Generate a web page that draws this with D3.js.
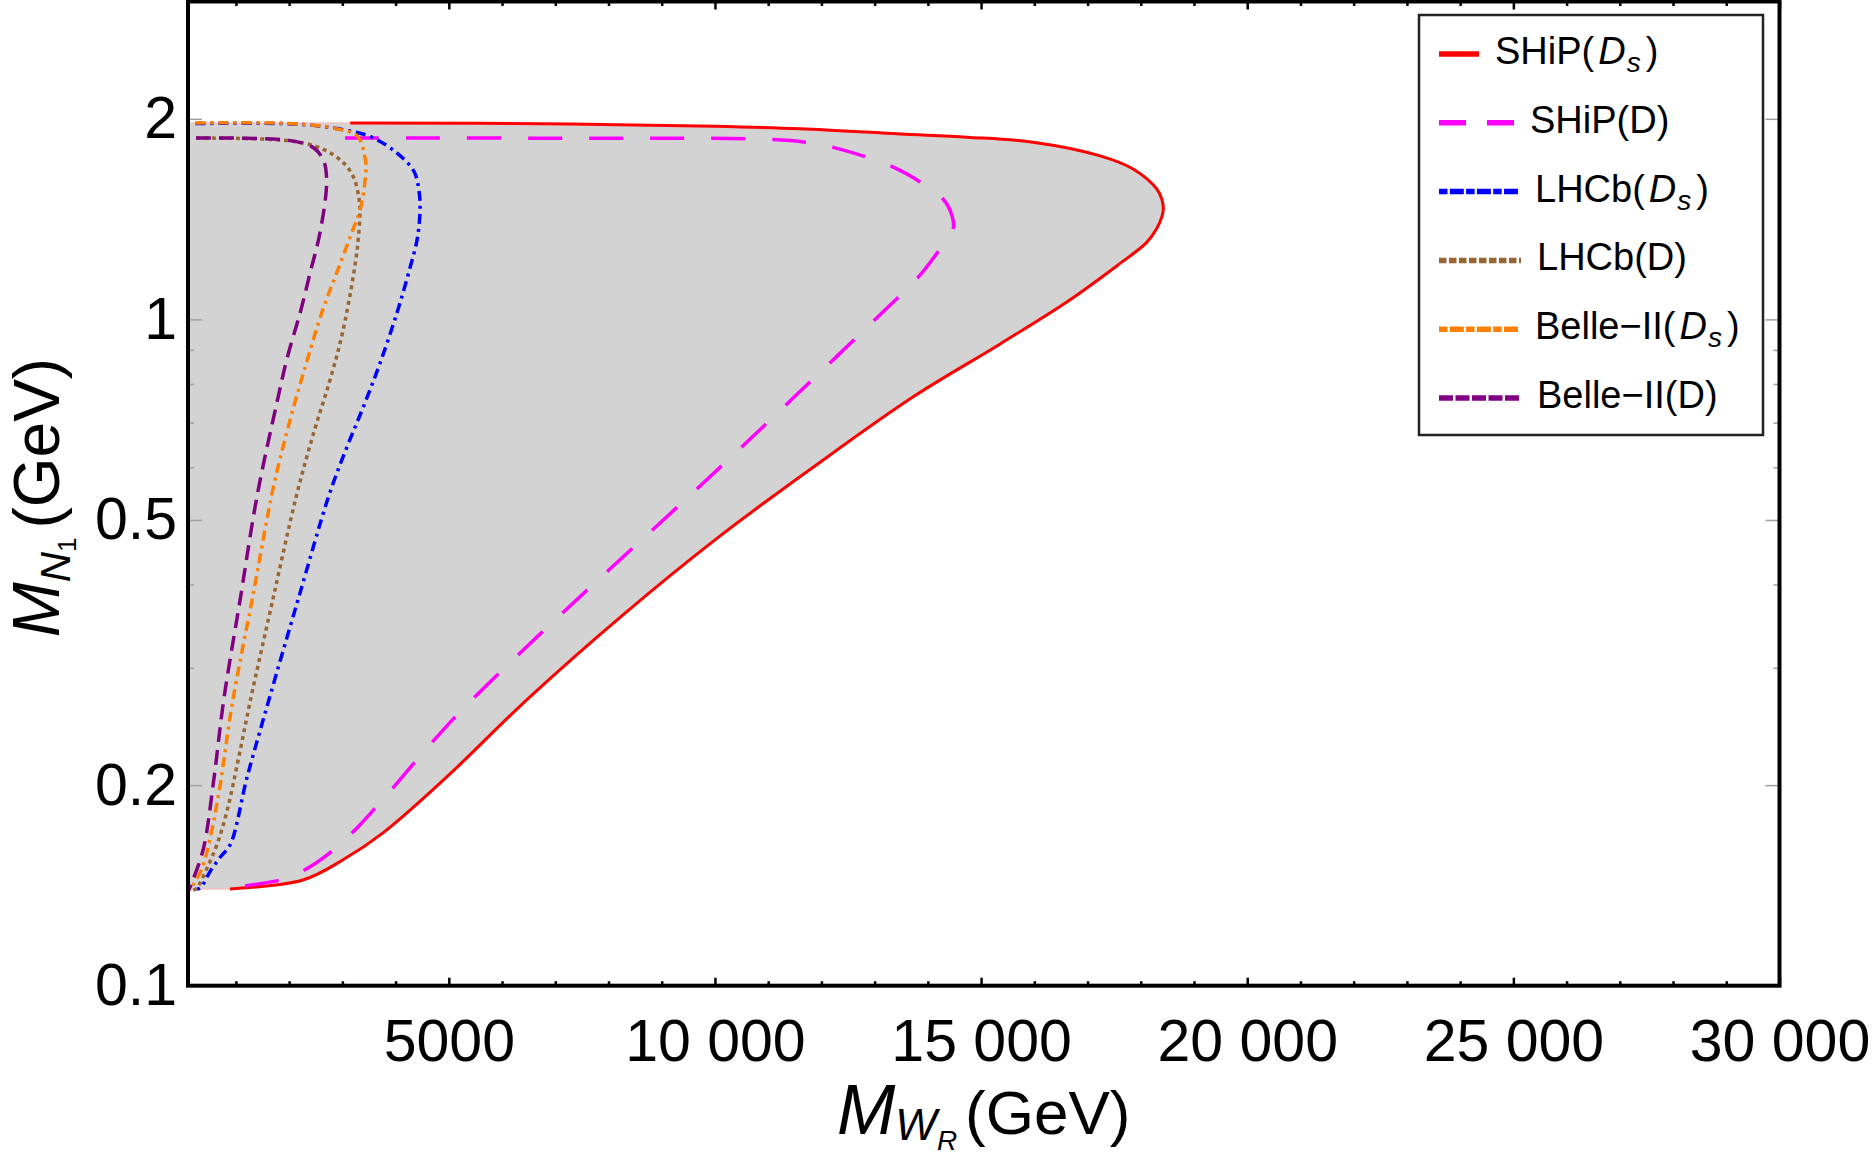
<!DOCTYPE html>
<html>
<head>
<meta charset="utf-8">
<script src="https://cdn.jsdelivr.net/npm/d3@7"></script>
<style>
  body { margin: 0; background: #fff; }
  svg { display: block; }
  text { font-family: "Liberation Sans", Arial, sans-serif; fill: #000; }
</style>
</head>
<body>
<div id="chart"></div>
<script>
// axis setup
const xDomain = [100, 30000];
const yDomain = [0.1, 3];
const xMajorTicks = [5000, 10000, 15000, 20000, 25000, 30000];
const xTickLabels = ["5000", "10 000", "15 000", "20 000", "25 000", "30 000"];
const xMinorTicks = d3.range(1000, 30000, 1000).filter(v => v % 5000 !== 0);
const yMajorTicks = [0.1, 0.2, 0.5, 1, 2];
const yTickLabels = ["0.1", "0.2", "0.5", "1", "2"];
const yMinorTicks = [0.3, 0.4, 0.6, 0.7, 0.8, 0.9];

// curves, [M_WR (GeV), M_N1 (GeV)]
const shipDs = [[3148,1.972],[7281,1.965],[9983,1.949],[11599,1.932],[13478,1.898],[14737,1.877],
  [15977,1.845],[17236,1.760],[17856,1.682],[18300,1.570],[18394,1.516],[18424,1.465],[18394,1.424],
  [18300,1.369],[18112,1.305],[17554,1.204],[16610,1.062],[15351,0.918],[13711,0.764],[11845,0.600],
  [10049,0.470],[8251,0.359],[6469,0.2688],[4966,0.2059],[3764,0.1696],
  [3012,0.1545],[2260,0.1441],[889,0.1397]];
const shipD = [[3050,1.871],[8000,1.870],[10947,1.864],[11700,1.845],[12296,1.806],[13307,1.698],[13855,1.608],
  [14286,1.516],[14455,1.430],[14476,1.369],[14228,1.276],[13816,1.156],[13195,1.033],[11845,0.814],
  [10498,0.643],[9262,0.520],[8027,0.422],[6678,0.335],[5211,0.2576],[4515,0.2237],[4083,0.2038],
  [3707,0.1882],[3330,0.1743],[2899,0.1616],[2447,0.1518],[1960,0.1451],[1321,0.1417],[737,0.1397]];
const lhcbDs = [[240,1.968],[1837,1.968],[2402,1.957],[3029,1.925],[3532,1.880],[4034,1.775],
  [4347,1.667],[4441,1.556],[4460,1.470],[4410,1.325],[4253,1.181],[4034,1.028],[3720,0.865],
  [3406,0.743],[3075,0.640],[2747,0.544],[2190,0.385],[1617,0.268],[1210,0.2055],[896,0.163],
  [708,0.156],[520,0.1486],[331,0.1402],[263,0.1397]];
const lhcbD = [[250,1.871],[2088,1.851],[2653,1.798],[3029,1.716],[3217,1.630],[3311,1.521],
  [3330,1.452],[3281,1.279],[3155,1.101],[2978,0.936],[2758,0.806],[2467,0.678],[2138,0.544],
  [1701,0.382],[1272,0.268],[1052,0.220],[834,0.183],[646,0.163],[457,0.150],[269,0.1402],[200,0.139]];
const belleDs = [[240,1.972],[2000,1.968],[2905,1.932],[3281,1.884],[3437,1.727],[3437,1.650],
  [3343,1.470],[3187,1.356],[2905,1.181],[2622,1.028],[2276,0.835],[2026,0.710],[1711,0.563],
  [1320,0.385],[928,0.264],[708,0.201],[520,0.167],[363,0.150],[205,0.142],[143,0.139]];
const belleD = [[250,1.871],[2024,1.855],[2465,1.808],[2653,1.727],[2703,1.632],[2684,1.522],
  [2559,1.325],[2402,1.181],[2214,1.028],[1963,0.875],[1759,0.743],[1399,0.544],[1085,0.382],
  [770,0.268],[582,0.203],[393,0.161],[205,0.145],[111,0.139]];

const series = [
  {name: "SHiP", meson: "Ds", data: shipDs, color: "#ff0000", dash: null, legDash: null, legLen: 40, width: 3},
  {name: "SHiP", meson: "D", data: shipD, color: "#ff00ff", dash: "34,27", legDash: "27,21", legLen: 75, width: 3.5},
  {name: "LHCb", meson: "Ds", data: lhcbDs, color: "#0000ff", dash: "10,5,3,5", legDash: "8.5,2.3,14,2.3", legLen: 80, width: 3.5},
  {name: "LHCb", meson: "D", data: lhcbD, color: "#996633", dash: "4,4", legDash: "7.5,2.5", legLen: 82, width: 3.5},
  {name: "Belle\u2212II", meson: "Ds", data: belleDs, color: "#ff8000", dash: "10,5,3,5", legDash: "8.5,2.3,14,2.3", legLen: 80, width: 3.5},
  {name: "Belle\u2212II", meson: "D", data: belleD, color: "#800080", dash: "15,8", legDash: "14,2.5", legLen: 82, width: 3.5}
];

const W = 1875, H = 1155;
const svg = d3.select("#chart").append("svg").attr("width", W).attr("height", H);

const x = d3.scaleLinear().domain(xDomain).range([188, 1779.5]);
const y = d3.scaleLog().domain(yDomain).range([985.7, 1.5]);

const line = d3.line()
  .x(d => x(d[0]))
  .y(d => y(d[1]))
  .curve(d3.curveCatmullRom.alpha(0.5));

// shaded SHiP(Ds) region: red curve closed against the left frame
const top0 = shipDs[0][1], bot0 = shipDs[shipDs.length - 1][1];
svg.append("path")
  .attr("d", line(shipDs) + `L${x(xDomain[0])},${y(bot0)}L${x(xDomain[0])},${y(top0)}Z`)
  .attr("fill", "#d3d3d3");
svg.append("path")
  .attr("d", `M${x(xDomain[0])},${y(top0)}L${x(shipDs[0][0])},${y(top0)}M${x(xDomain[0])},${y(bot0)}L${x(shipDs[shipDs.length - 1][0])},${y(bot0)}`)
  .attr("stroke", "#f4c2c2").attr("stroke-width", 1.5).attr("fill", "none");

// ticks
function styleAxis(g, color, width) {
  g.select(".domain").remove();
  g.selectAll(".tick line").attr("stroke", color).attr("stroke-width", width);
  g.selectAll(".tick text").attr("font-size", 59).attr("fill", "#000")
    .attr("font-family", '"Liberation Sans", Arial, sans-serif');
}
const yb = y.range()[0], yt = y.range()[1], xl = x.range()[0], xr = x.range()[1];

svg.append("g").attr("transform", `translate(0,${yb})`)
  .call(d3.axisBottom(x).tickValues(xMajorTicks).tickSize(-8).tickPadding(33)
    .tickFormat(d => xTickLabels[xMajorTicks.indexOf(d)]))
  .call(g => styleAxis(g, "#000", 2.5));
svg.append("g").attr("transform", `translate(0,${yb})`)
  .call(d3.axisBottom(x).tickValues(xMinorTicks).tickSize(-4.5).tickFormat(""))
  .call(g => styleAxis(g, "#000", 2.5));
svg.append("g").attr("transform", `translate(0,${yt})`)
  .call(d3.axisTop(x).tickValues(xMajorTicks).tickSize(-8).tickFormat(""))
  .call(g => styleAxis(g, "#000", 2.5));
svg.append("g").attr("transform", `translate(0,${yt})`)
  .call(d3.axisTop(x).tickValues(xMinorTicks).tickSize(-4.5).tickFormat(""))
  .call(g => styleAxis(g, "#000", 2.5));

svg.append("g").attr("transform", `translate(${xl},0)`)
  .call(d3.axisLeft(y).tickValues(yMajorTicks).tickSize(-14).tickPadding(11)
    .tickFormat(d => yTickLabels[yMajorTicks.indexOf(d)]))
  .call(g => styleAxis(g, "#a0a0a0", 1.5));
svg.append("g").attr("transform", `translate(${xl},0)`)
  .call(d3.axisLeft(y).tickValues(yMinorTicks).tickSize(-6).tickFormat(""))
  .call(g => styleAxis(g, "#a0a0a0", 1.5));
svg.append("g").attr("transform", `translate(${xr},0)`)
  .call(d3.axisRight(y).tickValues(yMajorTicks).tickSize(-14).tickFormat(""))
  .call(g => styleAxis(g, "#a0a0a0", 1.5));
svg.append("g").attr("transform", `translate(${xr},0)`)
  .call(d3.axisRight(y).tickValues(yMinorTicks).tickSize(-6).tickFormat(""))
  .call(g => styleAxis(g, "#a0a0a0", 1.5));

// curves
series.forEach(s => {
  svg.append("path")
    .datum(s.data)
    .attr("d", line)
    .attr("fill", "none")
    .attr("stroke", s.color)
    .attr("stroke-width", s.width)
    .attr("stroke-dasharray", s.dash)
    .attr("stroke-linejoin", "round");
});

// frame
svg.append("rect")
  .attr("x", xl).attr("y", yt)
  .attr("width", xr - xl).attr("height", yb - yt)
  .attr("fill", "none").attr("stroke", "#000").attr("stroke-width", 4);

// legend
const leg = svg.append("g");
leg.append("rect").attr("x", 1419).attr("y", 15).attr("width", 344).attr("height", 420)
  .attr("fill", "#fff").attr("stroke", "#222").attr("stroke-width", 2.5);
series.forEach((s, i) => {
  const ly = 54 + i * 68.8;
  leg.append("line")
    .attr("x1", 1439).attr("x2", 1439 + s.legLen)
    .attr("y1", ly).attr("y2", ly)
    .attr("stroke", s.color).attr("stroke-width", 5.5)
    .attr("stroke-dasharray", s.legDash);
  const t = leg.append("text")
    .attr("x", 1439 + s.legLen + 16).attr("y", ly + 10)
    .attr("font-size", 38);
  t.append("tspan").text(s.name + "(");
  if (s.meson === "Ds") {
    t.append("tspan").attr("dx", 4).attr("font-style", "italic").text("D");
    t.append("tspan").attr("dx", 1).attr("dy", 8).attr("font-size", 28).attr("font-style", "italic").text("s");
    t.append("tspan").attr("dx", 5).attr("dy", -8).text(")");
  } else {
    t.append("tspan").text("D)");
  }
});

// axis titles
const xt = svg.append("text").attr("x", (xl + xr) / 2).attr("y", 1134).attr("text-anchor", "middle");
xt.append("tspan").attr("font-style", "italic").attr("font-size", 70).text("M");
xt.append("tspan").attr("font-style", "italic").attr("font-size", 44).attr("dy", 6).text("W");
xt.append("tspan").attr("font-style", "italic").attr("font-size", 28).attr("dy", 10).text("R");
xt.append("tspan").attr("font-size", 62).attr("dy", -16).attr("dx", 8).text("(GeV)");

const ytg = svg.append("g").attr("transform", `translate(59,${(yt + yb) / 2 + 4}) rotate(-90)`);
const ytt = ytg.append("text").attr("text-anchor", "middle");
ytt.append("tspan").attr("font-style", "italic").attr("font-size", 66).text("M");
ytt.append("tspan").attr("font-style", "italic").attr("font-size", 42).attr("dy", 11).text("N");
ytt.append("tspan").attr("font-size", 26).attr("dy", 6).text("1");
ytt.append("tspan").attr("font-size", 64).attr("dy", -17).attr("dx", 9).text("(GeV)");
</script>
</body>
</html>
